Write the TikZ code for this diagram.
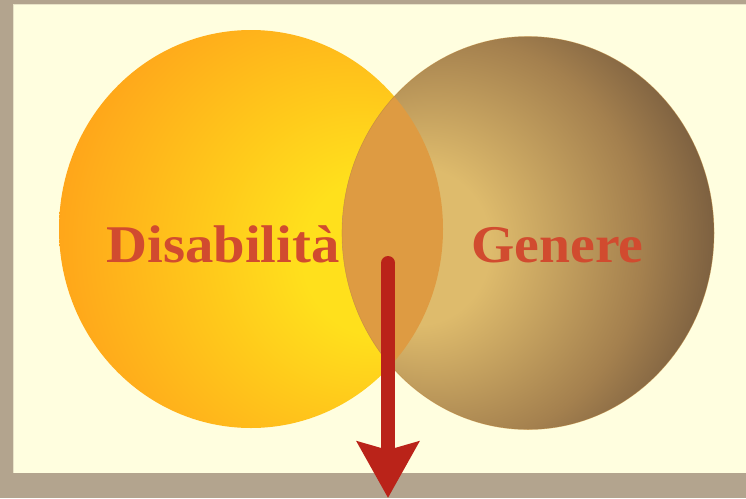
\documentclass[tikz,border=0pt]{standalone}
\usepackage{fontspec}
\setmainfont{Liberation Serif}
\usetikzlibrary{arrows.meta,shapes.geometric}
\definecolor{stone}{HTML}{B3A48E}
\definecolor{cream}{HTML}{FFFEDF}
\definecolor{sunA}{HTML}{FFE01C}
\definecolor{sunB}{HTML}{FF981A}
\definecolor{tanA}{HTML}{DEBB6C}
\definecolor{tanM}{HTML}{A4804E}
\definecolor{tanB}{HTML}{5A4434}
\definecolor{overlap}{HTML}{DE9B42}
\definecolor{labelred}{HTML}{D14B2F}
\definecolor{arrowred}{HTML}{BA2319}
\pgfdeclareradialshading{sunshade}{\pgfpoint{20bp}{-4bp}}{color(0bp)=(sunA); color(10bp)=(sunA); color(40bp)=(sunB); color(62bp)=(sunB)}
\pgfdeclareradialshading{tanshade}{\pgfpoint{-18bp}{-2bp}}{color(0bp)=(tanA); color(10bp)=(tanA); color(26bp)=(tanM); color(40bp)=(tanB); color(62bp)=(tanB)}
\tikzset{
  setname/.style={ellipse, inner sep=0pt, draw=none},
  label text/.style={font=\fontsize{53}{60}\selectfont\bfseries, text=labelred, anchor=base, inner sep=0pt},
  bigarrow/.style={draw=arrowred, line width=14pt, -{Stealth[length=56pt,width=61pt,inset=8pt]}}
}
\begin{document}
\begin{tikzpicture}[x=1pt,y=-1pt]
\useasboundingbox (0,0) rectangle (746,498);
\fill[stone] (0,0) rectangle (746,498);
\fill[cream] (13,4) rectangle (746,473);
\draw[cream!70!stone, line width=1pt] (13.5,473) -- (13.5,4.5) -- (746,4.5);
% circles
\node[setname, minimum width=384pt, minimum height=398pt, shading=sunshade] (dis) at (251,229) {};
\node[setname, minimum width=372pt, minimum height=393pt, shading=tanshade] (gen) at (528,233) {};
\begin{scope}
  \clip (251,229) ellipse [x radius=192, y radius=199];
  \fill[overlap] (528,233) ellipse [x radius=186, y radius=196.5];
\end{scope}
\draw[overlap!85!black, line width=0.6pt, opacity=0.5] (528,233) ellipse [x radius=186, y radius=196.5];
% labels
\node[label text, xscale=1.07] (tdis) at (223,262) {Disabilità};
\node[label text, xscale=1.05] (tgen) at (557.5,262) {Genere};
% arrow
\coordinate (atop) at (388,263);
\coordinate (atip) at (388,498);
\fill[arrowred] (atop) circle (7pt);
\draw[bigarrow] (atop) -- (atip);
\end{tikzpicture}
\end{document}
